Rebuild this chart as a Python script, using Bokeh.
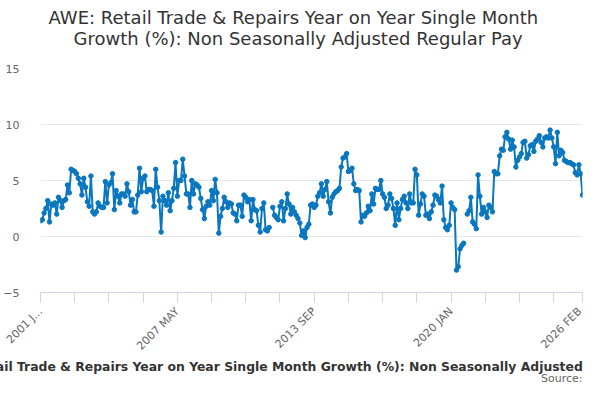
import math
from bokeh.plotting import figure
from bokeh.models import FixedTicker, Title, Range1d, ColumnDataSource
from bokeh.embed import file_html
from bokeh.resources import INLINE

nan = float("nan")

# Monthly values, 2001 JAN .. 2026 FEB (one row per year)
values = [
    1.4, 1.5, 2.1, 2.5, 3.2, 1.3, 2.9, 2.8, 3.0, 2.0, 3.5, 3.2,   # 2001
    2.6, 3.2, 3.3, 4.6, 3.9, 6.0, 5.9, 5.8, 5.6, 5.2, 4.7, 3.7,   # 2002
    5.2, 4.4, 3.1, 2.7, 5.4, 2.2, 2.0, 2.2, 3.0, 2.7, 2.6, 2.6,   # 2003
    4.9, 3.0, 4.6, 4.8, 5.6, 2.4, 4.1, 3.6, 3.0, 3.8, 3.8, 3.6,   # 2004
    4.7, 4.0, 2.8, 3.3, 2.2, 2.2, 3.7, 6.1, 4.0, 5.2, 5.4, 4.0,   # 2005
    4.2, 4.2, 4.1, 2.7, 6.0, 4.4, 3.2, 0.4, 3.6, 3.2, 2.8, 3.9,   # 2006
    2.3, 3.2, 4.3, 6.6, 3.6, 5.0, 5.0, 6.9, 5.4, 3.8, 3.8, 2.6,   # 2007
    5.0, 3.8, 4.7, 4.6, 4.4, 3.4, 2.4, 1.6, 2.7, 3.1, 2.8, 4.1,   # 2008
    3.2, 5.1, 3.9, 0.3, 1.8, 2.5, 3.5, 3.1, 2.6, 3.0, 2.9, 2.1,   # 2009
    2.0, 1.4, 2.8, 2.8, 1.8, 3.7, 3.5, 3.1, 3.3, 1.4, 3.3, 2.4,   # 2010
    2.3, 1.0, 0.4, 2.5, 3.0, 0.6, 0.5, 0.8, nan, 2.6, 1.9, 1.7,   # 2011
    1.5, 2.7, 3.1, 1.4, 2.5, 3.8, 2.9, 2.0, 2.6, 2.2, 1.9, 1.6,   # 2012
    1.2, 0.1, 0.5, -0.1, 0.8, 1.1, 2.8, 2.9, 2.6, 2.8, 3.6, 3.9,  # 2013
    4.7, 3.6, 4.2, 4.9, 3.1, 2.1, 3.5, 3.8, 4.0, 4.1, 4.3, 6.2,   # 2014
    7.0, 7.1, 7.4, 5.8, 5.9, 6.1, 4.7, 4.1, 4.2, 4.1, 1.3, 1.9,   # 2015
    1.8, 2.1, 2.7, 2.3, 3.8, 2.9, 4.3, 4.2, 4.2, 5.0, 3.8, 3.5,   # 2016
    2.5, 2.8, 3.8, 3.4, 2.5, 1.0, 3.0, 1.5, 2.5, 3.3, 3.6, 3.0,   # 2017
    2.5, 3.8, 3.0, 3.0, 6.0, 5.5, 1.9, 2.9, 3.8, 3.6, 1.9, 2.0,   # 2018
    1.6, 2.2, 2.8, 3.7, 3.6, 3.3, 3.0, 4.5, 1.5, 0.8, 0.6, 1.0,   # 2019
    3.0, 2.6, 2.4, -3.0, -2.7, -1.1, -0.8, -0.6, nan, 2.0, 2.3, 3.5,  # 2020
    1.3, 1.1, 0.7, 5.5, 3.6, 2.0, 2.6, 2.2, 1.7, 2.8, 2.6, 2.2,   # 2021
    5.8, 5.6, 5.6, 7.2, 7.8, 7.7, 8.9, 9.3, 8.7, 7.8, 8.6, 8.0,   # 2022
    6.2, 6.8, 7.1, 7.4, 8.4, 8.5, 7.0, 7.3, 8.1, 8.2, 7.6, 8.5,   # 2023
    8.7, 9.0, 8.4, 8.0, 8.8, 8.9, 8.8, 9.5, 8.8, 8.0, 6.5, 9.3,   # 2024
    7.2, 7.7, 7.5, 6.8, 6.7, 6.6, 6.6, 6.5, 6.4, 5.7, 5.5, 6.4,   # 2025
    5.6, 3.7,                                                     # 2026
]
months = list(range(len(values)))

x_tick_positions = [0, 19, 38, 57, 76, 95, 114, 133, 152, 171, 190, 209,
                    228, 247, 266, 285, 301]
x_tick_labels = {0: "2001 J...", 76: "2007 MAY", 152: "2013 SEP",
                 228: "2020 JAN", 301: "2026 FEB"}
y_ticks = [-5, 0, 5, 10, 15]

title_line1 = "AWE: Retail Trade & Repairs Year on Year Single Month"
title_line2 = "Growth (%): Non Seasonally Adjusted Regular Pay"
series_name = ("AWE: Retail Trade & Repairs Year on Year Single Month Growth (%): "
               "Non Seasonally Adjusted Regular Pay")
source_text = "Source:"

FONT = "DejaVu Sans"
LINE_COLOR = "#0877bf"
W, H = 584, 384

src = ColumnDataSource(data=dict(x=months, y=values))

p = figure(width=W, height=H, output_backend="svg", toolbar_location=None,
           x_range=Range1d(0, months[-1]), y_range=Range1d(-5, 15),
           min_border_left=40, min_border_right=2,
           min_border_top=0, min_border_bottom=0)
p.outline_line_color = None
p.background_fill_color = "white"
p.border_fill_color = "white"

p.line("x", "y", source=src, line_color=LINE_COLOR, line_width=2)
p.scatter("x", "y", source=src, size=4.5, fill_color=LINE_COLOR,
          line_color=LINE_COLOR)

# x axis
xa = p.xaxis[0]
xa.ticker = FixedTicker(ticks=x_tick_positions)
xa.major_label_overrides = {t: x_tick_labels.get(t, "") for t in x_tick_positions}
xa.major_label_orientation = math.pi / 4
xa.axis_line_color = "#ccd6eb"
xa.major_tick_line_color = "#ccd6eb"
xa.major_tick_out = 10
xa.major_tick_in = 0
xa.minor_tick_line_color = None
xa.major_label_text_color = "#666666"
xa.major_label_text_font = FONT
xa.major_label_text_font_size = "11px"
xa.major_label_standoff = 7

# y axis
ya = p.yaxis[0]
ya.ticker = FixedTicker(ticks=y_ticks)
ya.axis_line_color = None
ya.major_tick_line_color = None
ya.minor_tick_line_color = None
ya.major_label_text_color = "#666666"
ya.major_label_text_font = FONT
ya.major_label_text_font_size = "11px"
ya.major_label_standoff = 15

p.xgrid.grid_line_color = None
p.ygrid.grid_line_color = "#e6e6e6"
p.ygrid.ticker = FixedTicker(ticks=y_ticks)

# titles (first added is closest to the frame); a tiny spacer sits next to the frame
p.add_layout(Title(text=" ", text_font_size="1px", standoff=23), "above")
p.add_layout(Title(text=title_line2, align="left", offset=33, text_font=FONT,
                   text_font_size="18px", text_font_style="normal",
                   text_color="#333333", standoff=-12), "above")
p.add_layout(Title(text=title_line1, align="left", offset=8, text_font=FONT,
                   text_font_size="18px", text_font_style="normal",
                   text_color="#333333", standoff=8), "above")

# legend text and source below
p.add_layout(Title(text=series_name, align="left", offset=-109, text_font=FONT,
                   text_font_size="12.4px", text_font_style="bold",
                   text_color="#333333", standoff=-8), "below")
p.add_layout(Title(text=source_text, align="right", text_font=FONT,
                   text_font_size="11px", text_font_style="normal",
                   text_color="#666666", standoff=0), "below")

open("out.html", "w").write(file_html(p, INLINE))
